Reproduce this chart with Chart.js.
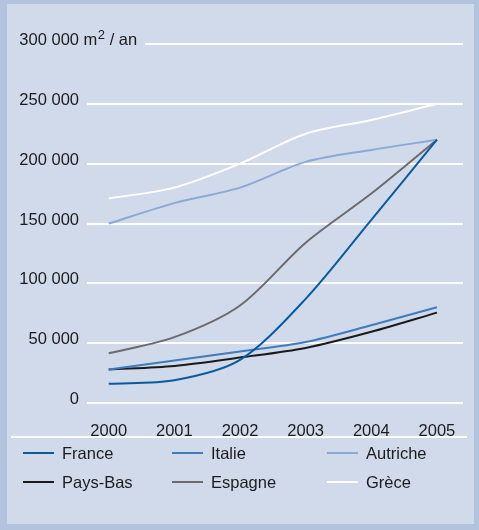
<!DOCTYPE html>
<html>
<head>
<meta charset="utf-8">
<script src="https://cdn.jsdelivr.net/npm/chart.js@4/dist/chart.umd.min.js"></script>
<style>
  body { margin: 0; background: #b3c3de; }
  #frame { position: relative; width: 479px; height: 530px; background: #b3c3de; overflow: hidden; }
  #inner { position: absolute; left: 7px; top: 4px; width: 467px; height: 520px; background: #d0daeb; }
  #wrap { position: absolute; left: 0; top: 0; width: 479px; height: 440px; }
  #sep { position: absolute; left: 11px; top: 436px; width: 456px; height: 2px; background: #fff; }
  .leg { position: absolute; font: 16.5px "Liberation Sans", Arial, sans-serif; color: #1c1c1c; line-height: 20px; }
  .leg i { position: absolute; left: 0; top: 9px; width: 31px; height: 2px; }
  .leg span { position: absolute; left: 39px; top: 0; white-space: nowrap; }
</style>
</head>
<body>
<div id="frame">
  <div id="inner"></div>
  <div id="wrap"><canvas id="chart" width="479" height="440"></canvas></div>
  <div id="sep"></div>
  <div id="legend"></div>
</div>
<script>
// data
const years = [2000, 2001, 2002, 2003, 2004, 2005];
const france   = [16000, 19000, 36000, 87000, 153000, 220000];
const italie   = [28000, 35500, 43000, 51000, 65000, 80000];
const autriche = [150000, 167000, 180000, 201500, 211500, 220000];
const paysBas  = [28000, 31000, 38000, 46000, 59500, 75500];
const espagne  = [41500, 55000, 81500, 134000, 175000, 220000];
const grece    = [171000, 180000, 200000, 225000, 236500, 250000];
const yTicks = [0, 50000, 100000, 150000, 200000, 250000, 300000];

const series = [
  { name: 'France',   data: france,   color: '#0a5b9c' },
  { name: 'Italie',   data: italie,   color: '#3f7cbc' },
  { name: 'Autriche', data: autriche, color: '#8ca9d3' },
  { name: 'Pays-Bas', data: paysBas,  color: '#1a1a1a' },
  { name: 'Espagne',  data: espagne,  color: '#6b6b6b' },
  { name: 'Grèce',    data: grece,    color: '#ffffff' },
];

const TXT = '#1c1c1c';
const FONT = { family: '"Liberation Sans", Arial, sans-serif', size: 16.5 };
const fmt = v => String(v).replace(/\B(?=(\d{3})+(?!\d))/g, ' ');

// unit label + short top grid line
const topLabel = {
  id: 'topLabel',
  beforeDatasetsDraw(chart) {
    const ctx = chart.ctx, y = chart.scales.y.getPixelForValue(300000);
    const ty = y - 3.5;
    ctx.save();
    ctx.fillStyle = TXT;
    ctx.textBaseline = 'middle';
    ctx.font = '16.5px "Liberation Sans", Arial, sans-serif';
    let x = 79 + ctx.measureText(' ').width;
    ctx.fillText('m', x, ty);
    x += ctx.measureText('m').width;
    ctx.font = '13px "Liberation Sans", Arial, sans-serif';
    ctx.fillText('2', x + 0.5, ty - 5.5);
    x += ctx.measureText('2').width + 0.5;
    ctx.font = '16.5px "Liberation Sans", Arial, sans-serif';
    ctx.fillText(' / an', x, ty);
    x += ctx.measureText(' / an').width;
    ctx.strokeStyle = '#fff';
    ctx.lineWidth = 2;
    ctx.beginPath();
    ctx.moveTo(x + 8, y);
    ctx.lineTo(chart.chartArea.right, y);
    ctx.stroke();
    ctx.restore();
  }
};

new Chart(document.getElementById('chart'), {
  type: 'line',
  data: {
    datasets: series.map(s => ({
      label: s.name,
      data: s.data.map((v, i) => ({ x: years[i], y: v })),
      borderColor: s.color,
      borderWidth: 2,
      pointRadius: 0,
      tension: 0.3,
      fill: false
    }))
  },
  options: {
    responsive: false,
    animation: false,
    layout: { padding: { top: 44, right: 16, left: 0, bottom: 0 } },
    plugins: { legend: { display: false }, tooltip: { enabled: false } },
    scales: {
      x: {
        type: 'linear',
        min: 1999.669,
        max: 2005.397,
        afterBuildTicks: s => { s.ticks = years.map(v => ({ value: v })); },
        afterFit: s => { s.height = 37; },
        grid: { display: false },
        border: { display: false },
        ticks: { color: TXT, font: FONT, padding: 11, maxRotation: 0, callback: v => String(v) }
      },
      y: {
        min: 0,
        max: 300000,
        afterBuildTicks: s => { s.ticks = yTicks.map(v => ({ value: v })); },
        afterFit: s => { s.width = 87; },
        grid: {
          color: c => (c.tick && c.tick.value === 300000) ? 'rgba(0,0,0,0)' : '#ffffff',
          lineWidth: 2,
          drawTicks: false
        },
        border: { display: false },
        ticks: { color: TXT, font: FONT, padding: 8, labelOffset: -3.5, callback: v => fmt(v) }
      }
    }
  },
  plugins: [topLabel]
});

// legend, 3 columns
const legend = document.getElementById('legend');
const colX = [23, 172, 327], rowY = [443, 472];
series.forEach((s, i) => {
  const d = document.createElement('div');
  d.className = 'leg';
  d.style.left = colX[i % 3] + 'px';
  d.style.top = rowY[Math.floor(i / 3)] + 'px';
  d.innerHTML = '<i style="background:' + s.color + '"></i><span>' + s.name + '</span>';
  legend.appendChild(d);
});
</script>
</body>
</html>
